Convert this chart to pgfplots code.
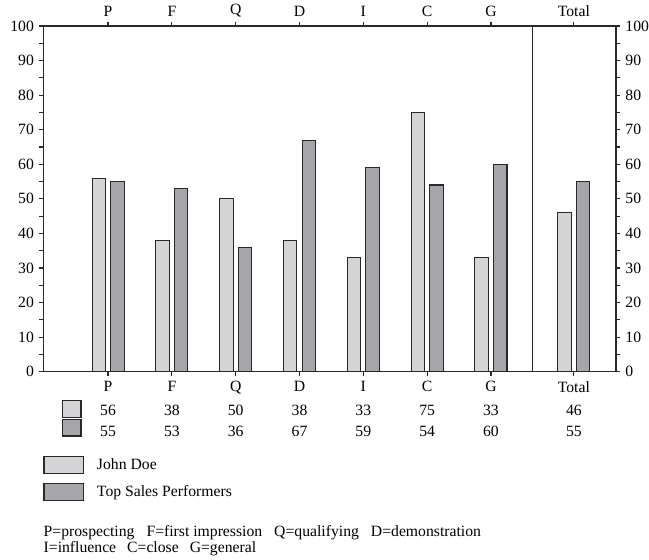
\documentclass[border=0pt]{standalone}
\usepackage{pgfplots}
\pgfplotsset{compat=1.18}
\usepackage{pgfplotstable}
\usepackage{fontspec}
\setmainfont{Liberation Serif}

\definecolor{jdfill}{RGB}{212,212,214}
\definecolor{tsfill}{RGB}{166,166,170}
\definecolor{edge}{RGB}{40,40,40}

\pgfplotsset{
  swatch/.style={legend image code/.code={\draw[##1] (0pt,-8.5pt) rectangle (39.4pt,8.5pt);}},
}

% category position, John Doe, Top Sales Performers
\pgfplotstableread{
x     jd  ts
0     56  55
1     38  53
2     50  36
3     38  67
4     33  59
5     75  54
6     33  60
7.30  46  55
}\scores

\begin{document}
\fontsize{15.7}{18}\selectfont
\begin{tikzpicture}[x=1pt,y=1pt]
\pgfplotsset{
  frame/.style={
    at={(43.3pt,188.3pt)}, anchor=south west,
    scale only axis, width=572.7pt, height=345.7pt,
    xmin=-1.015, xmax=7.96, ymin=0, ymax=100,
    xtick={0,1,2,3,4,5,6,7.30},
    xticklabels={P,F,Q,D,I,C,G,Total},
    ytick={0,10,...,100},
    minor y tick num=1,
    xtick pos=both, ytick pos=both,
    tick align=outside,
    major tick length=4pt, minor tick length=4pt,
    axis line style={edge, line width=1.2pt},
    every tick/.style={edge, line width=1.2pt},
    /pgf/number format/assume math mode=true,
    tick label style={font=\fontsize{15.7}{18}\selectfont},
    clip=false,
  },
}
\begin{axis}[frame,
  xticklabel pos=lower, yticklabel pos=left,
  legend style={draw=none, fill=none, inner sep=0pt, anchor=north west,
    at={(axis description cs:0,-0.2439)}, row sep=9pt,
    font=\fontsize{15.7}{18}\selectfont,
    nodes={inner sep=0pt},
    /tikz/every odd column/.append style={column sep=13pt}},
  legend cell align=left,
]
\addplot[ybar, bar width=0.21, bar shift=-0.146, fill=jdfill, draw=edge, line width=1.1pt, swatch]
  table[x=x, y=jd]{\scores};
\addlegendentry{John Doe}
\addplot[ybar, bar width=0.21, bar shift=0.146, fill=tsfill, draw=edge, line width=1.1pt, swatch]
  table[x=x, y=ts]{\scores};
\addlegendentry{Top Sales Performers}
% value table under the axis
\addplot[forget plot, draw=none, mark=none, nodes near coords,
  point meta=explicit symbolic,
  every node near coord/.style={anchor=base, inner sep=0pt}]
  table[x=x, y expr=-12.53, meta=jd]{\scores};
\addplot[forget plot, draw=none, mark=none, nodes near coords,
  point meta=explicit symbolic,
  every node near coord/.style={anchor=base, inner sep=0pt}]
  table[x=x, y expr=-18.74, meta=ts]{\scores};
% divider before the total
\draw[edge, line width=1.8pt] (axis cs:6.65,0) -- (axis cs:6.65,100);
\end{axis}
\begin{axis}[frame, xticklabel pos=upper, yticklabel pos=right]
\end{axis}

% swatches of the value table
\draw[edge, line width=1.1pt, fill=jdfill] (62.7,142.7) rectangle (81,159.3);
\draw[edge, line width=1.1pt, fill=tsfill] (62.7,124) rectangle (81,140.7);

% key to the letters
\node[anchor=base west, inner sep=0pt] at (43.5,23.3)
  {P=prospecting\hspace{12pt}F=first impression\hspace{12pt}Q=qualifying\hspace{12pt}D=demonstration};
\node[anchor=base west, inner sep=0pt] at (43.5,7)
  {I=influence\hspace{11pt}C=close\hspace{11pt}G=general};

\pgfresetboundingbox
\useasboundingbox (0,0) rectangle (649,560);
\end{tikzpicture}
\end{document}
